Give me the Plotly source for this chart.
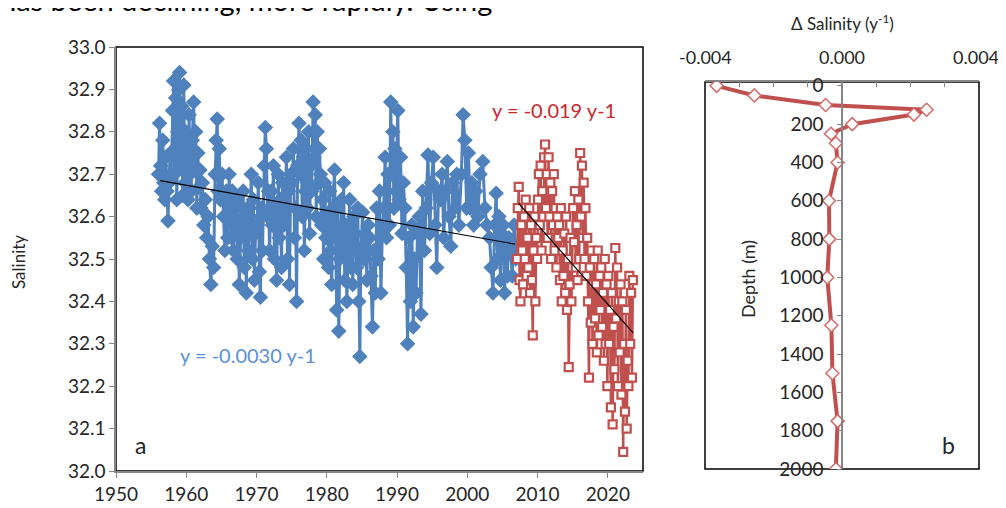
import plotly.graph_objects as go

# ---------------- Panel a: surface salinity time series ----------------
blue_t = [
    1956.05, 1956.2, 1956.35, 1956.5, 1956.65, 1956.8, 1956.95,
    1957.1, 1957.25, 1957.4, 1957.55, 1957.7, 1957.85,
    1958.05, 1958.2, 1958.35, 1958.5, 1958.65, 1958.8, 1958.95,
    1959.05, 1959.2, 1959.35, 1959.5, 1959.65, 1959.8, 1959.95,
    1960.1, 1960.25, 1960.4, 1960.55, 1960.7, 1960.85,
    1961.05, 1961.2, 1961.35, 1961.5, 1961.65, 1961.8, 1961.95,
    1962.1, 1962.3, 1962.5, 1962.7, 1962.9,
    1963.1, 1963.3, 1963.5, 1963.7, 1963.9,
    1964.1, 1964.25, 1964.4, 1964.55, 1964.7, 1964.85,
    1965.1, 1965.3, 1965.5, 1965.7, 1965.9,
    1966.1, 1966.25, 1966.4, 1966.55, 1966.7, 1966.85,
    1967.1, 1967.25, 1967.4, 1967.55, 1967.7, 1967.85,
    1968.1, 1968.25, 1968.4, 1968.55, 1968.7, 1968.85,
    1969.1, 1969.25, 1969.4, 1969.55, 1969.7, 1969.85,
    1970.1, 1970.25, 1970.4, 1970.55, 1970.7, 1970.85,
    1971.1, 1971.25, 1971.4, 1971.55, 1971.7, 1971.85,
    1972.1, 1972.25, 1972.4, 1972.55, 1972.7, 1972.85,
    1973.1, 1973.25, 1973.4, 1973.55, 1973.7, 1973.85,
    1974.1, 1974.25, 1974.4, 1974.55, 1974.7, 1974.85,
    1975.1, 1975.25, 1975.4, 1975.55, 1975.7, 1975.85,
    1976.05, 1976.2, 1976.35, 1976.5, 1976.65, 1976.8, 1976.95,
    1977.1, 1977.25, 1977.4, 1977.55, 1977.7, 1977.85,
    1978.05, 1978.2, 1978.35, 1978.5, 1978.65, 1978.8, 1978.95,
    1979.1, 1979.25, 1979.4, 1979.55, 1979.7, 1979.85,
    1980.1, 1980.25, 1980.4, 1980.55, 1980.7, 1980.85,
    1981.1, 1981.25, 1981.4, 1981.55, 1981.7, 1981.85,
    1982.1, 1982.25, 1982.4, 1982.55, 1982.7, 1982.85,
    1983.1, 1983.25, 1983.4, 1983.55, 1983.7, 1983.85,
    1984.1, 1984.25, 1984.4, 1984.55, 1984.7, 1984.85,
    1985.1, 1985.3, 1985.5, 1985.7, 1985.9,
    1986.1, 1986.3, 1986.5, 1986.7, 1986.9,
    1987.1, 1987.3, 1987.5, 1987.7, 1987.9,
    1988.1, 1988.3, 1988.5, 1988.7, 1988.9,
    1989.1, 1989.25, 1989.4, 1989.55, 1989.7, 1989.85,
    1990.1, 1990.3, 1990.5, 1990.7, 1990.9,
    1991.1, 1991.3, 1991.5, 1991.7, 1991.9,
    1992.1, 1992.3, 1992.5, 1992.7, 1992.9,
    1993.15, 1993.4, 1993.65, 1993.9,
    1994.15, 1994.4, 1994.65, 1994.9,
    1995.15, 1995.4, 1995.65, 1995.9,
    1996.15, 1996.4, 1996.65, 1996.9,
    1997.15, 1997.4, 1997.65, 1997.9,
    1998.2, 1998.5, 1998.8,
    1999.15, 1999.4, 1999.65, 1999.9,
    2000.15, 2000.4, 2000.65, 2000.9,
    2001.2, 2001.5, 2001.8,
    2002.2, 2002.5, 2002.8,
    2003.15, 2003.4, 2003.65, 2003.9,
    2004.1, 2004.3, 2004.5, 2004.7, 2004.9,
    2005.1, 2005.3, 2005.5, 2005.7, 2005.9,
    2006.15, 2006.4, 2006.65, 2006.9,
    2007.0,
]
blue_sal = [
    32.70, 32.82, 32.72, 32.66, 32.78, 32.68, 32.64,
    32.74, 32.66, 32.59, 32.68, 32.75, 32.70,
    32.85, 32.92, 32.70, 32.88, 32.64, 32.80, 32.90,
    32.94, 32.72, 32.86, 32.65, 32.91, 32.68, 32.80,
    32.76, 32.64, 32.84, 32.70, 32.66, 32.78,
    32.87, 32.72, 32.80, 32.62, 32.75, 32.67, 32.71,
    32.62, 32.68, 32.58, 32.64, 32.55,
    32.60, 32.50, 32.44, 32.53, 32.48,
    32.70, 32.78, 32.83, 32.66, 32.76, 32.64,
    32.70, 32.60, 32.52, 32.66, 32.55,
    32.70, 32.62, 32.55, 32.66, 32.52, 32.60,
    32.64, 32.50, 32.58, 32.44, 32.55, 32.62,
    32.66, 32.48, 32.58, 32.42, 32.62, 32.52,
    32.60, 32.70, 32.50, 32.64, 32.45, 32.56,
    32.58, 32.68, 32.47, 32.41, 32.62, 32.52,
    32.72, 32.81, 32.76, 32.60, 32.66, 32.52,
    32.66, 32.58, 32.72, 32.50, 32.62, 32.45,
    32.70, 32.55, 32.64, 32.48, 32.68, 32.58,
    32.62, 32.74, 32.50, 32.66, 32.44, 32.70,
    32.68, 32.76, 32.55, 32.62, 32.40, 32.72,
    32.82, 32.70, 32.78, 32.60, 32.74, 32.52, 32.66,
    32.76, 32.62, 32.80, 32.56, 32.72, 32.66,
    32.87, 32.74, 32.84, 32.60, 32.80, 32.68, 32.76,
    32.70, 32.58, 32.64, 32.50, 32.68, 32.55,
    32.60, 32.48, 32.66, 32.52, 32.44, 32.62,
    32.71, 32.55, 32.38, 32.62, 32.33, 32.50,
    32.64, 32.52, 32.68, 32.45, 32.58, 32.40,
    32.58, 32.64, 32.48, 32.55, 32.44, 32.60,
    32.56, 32.48, 32.62, 32.40, 32.27, 32.52,
    32.61, 32.50, 32.56, 32.45, 32.58,
    32.55, 32.46, 32.34, 32.52, 32.42,
    32.62, 32.50, 32.66, 32.42, 32.56,
    32.62, 32.74, 32.55, 32.70, 32.58,
    32.87, 32.70, 32.80, 32.62, 32.76, 32.66,
    32.85, 32.64, 32.74, 32.56, 32.68,
    32.62, 32.48, 32.30, 32.55, 32.40,
    32.58, 32.34, 32.50, 32.42, 32.56,
    32.60, 32.37, 32.66, 32.52,
    32.62, 32.745, 32.56, 32.68,
    32.74, 32.58, 32.48, 32.66,
    32.64, 32.70, 32.55, 32.66,
    32.73, 32.60, 32.53, 32.68,
    32.62, 32.70, 32.58,
    32.70, 32.84, 32.78, 32.62,
    32.75, 32.62, 32.68, 32.58,
    32.66, 32.60, 32.70,
    32.73, 32.62, 32.58,
    32.55, 32.48, 32.42, 32.58,
    32.655, 32.50, 32.60, 32.45, 32.56,
    32.58, 32.42, 32.52, 32.46, 32.55,
    32.52, 32.46, 32.58, 32.50,
    32.53,
]

red_t = [
    2007.06, 2007.18, 2007.31, 2007.43, 2007.56, 2007.68, 2007.81, 2007.93,
    2008.06, 2008.18, 2008.31, 2008.43, 2008.56, 2008.68, 2008.81, 2008.93,
    2009.06, 2009.18, 2009.31, 2009.43, 2009.56, 2009.68, 2009.81, 2009.93,
    2010.06, 2010.18, 2010.31, 2010.43, 2010.56, 2010.68, 2010.81, 2010.93,
    2011.06, 2011.18, 2011.31, 2011.43, 2011.56, 2011.68, 2011.81, 2011.93,
    2012.06, 2012.18, 2012.31, 2012.43, 2012.56, 2012.68, 2012.81, 2012.93,
    2013.06, 2013.18, 2013.31, 2013.43, 2013.56, 2013.68, 2013.81, 2013.93,
    2014.06, 2014.18, 2014.31, 2014.43, 2014.56, 2014.68, 2014.81, 2014.93,
    2015.06, 2015.18, 2015.31, 2015.43, 2015.56, 2015.68, 2015.81, 2015.93,
    2016.06, 2016.18, 2016.31, 2016.43, 2016.56, 2016.68, 2016.81, 2016.93,
    2017.06, 2017.18, 2017.31, 2017.43, 2017.56, 2017.68, 2017.81, 2017.93,
    2018.06, 2018.18, 2018.31, 2018.43, 2018.56, 2018.68, 2018.81, 2018.93,
    2019.06, 2019.18, 2019.31, 2019.43, 2019.56, 2019.68, 2019.81, 2019.93,
    2020.06, 2020.18, 2020.31, 2020.43, 2020.56, 2020.68, 2020.81, 2020.93,
    2021.06, 2021.18, 2021.31, 2021.43, 2021.56, 2021.68, 2021.81, 2021.93,
    2022.06, 2022.18, 2022.31, 2022.43, 2022.56, 2022.68, 2022.81, 2022.93,
    2023.06, 2023.18, 2023.31, 2023.43, 2023.56,
]
red_sal = [
    32.50, 32.62, 32.67, 32.45, 32.40, 32.58, 32.52, 32.44,
    32.60, 32.50, 32.64, 32.46, 32.55, 32.48, 32.62, 32.42,
    32.58, 32.45, 32.32, 32.52, 32.60, 32.40, 32.55, 32.50,
    32.64, 32.70, 32.58, 32.72, 32.52, 32.66, 32.60, 32.74,
    32.77, 32.62, 32.70, 32.55, 32.74, 32.60, 32.68, 32.50,
    32.66, 32.58, 32.70, 32.52, 32.62, 32.48, 32.60, 32.55,
    32.58, 32.45, 32.62, 32.40, 32.52, 32.46, 32.56, 32.42,
    32.60, 32.38, 32.50, 32.245, 32.44, 32.55, 32.40, 32.48,
    32.62, 32.54, 32.66, 32.48, 32.58, 32.45, 32.64, 32.50,
    32.75, 32.60, 32.72, 32.55, 32.68, 32.50, 32.62, 32.46,
    32.55, 32.40, 32.22, 32.48, 32.35, 32.52, 32.30, 32.44,
    32.50, 32.36, 32.44, 32.28, 32.52, 32.32, 32.46, 32.38,
    32.48, 32.34, 32.42, 32.26, 32.50, 32.30, 32.44, 32.20,
    32.46, 32.30, 32.38, 32.15, 32.42, 32.11, 32.34, 32.24,
    32.526, 32.36, 32.48, 32.20, 32.40, 32.28, 32.44, 32.18,
    32.40, 32.045, 32.30, 32.14, 32.38, 32.10, 32.26, 32.20,
    32.46, 32.30, 32.42, 32.22, 32.45,
]

# Linear trend lines (end points)
blue_trend_t = [1956.3, 2006.8]
blue_trend_sal = [32.685, 32.535]
red_trend_t = [2007.3, 2023.6]
red_trend_sal = [32.631, 32.326]

year_ticks = [1950, 1960, 1970, 1980, 1990, 2000, 2010, 2020]
sal_ticks = [32.0, 32.1, 32.2, 32.3, 32.4, 32.5, 32.6, 32.7, 32.8, 32.9, 33.0]

# ---------------- Panel b: salinity trend profile ----------------
depth_m = [0, 50, 100, 125, 150, 200, 250, 300, 400, 600, 800, 1000, 1250, 1500, 1750, 2000]
dsal = [-0.00366, -0.00256, -0.00048, 0.00247, 0.0021, 0.0003, -0.00032, -0.00018,
        -0.00013, -0.00038, -0.00037, -0.00043, -0.00031, -0.00028, -0.00013, -0.00018]
depth_ticks = [0, 200, 400, 600, 800, 1000, 1200, 1400, 1600, 1800, 2000]
dsal_ticks = [-0.004, -0.003, -0.002, -0.001, 0.0, 0.001, 0.002, 0.003, 0.004]
dsal_label_vals = [-0.004, 0.0, 0.004]
dsal_label_text = ["-0.004", "0.000", "0.004"]

BLUE = "#4F81BD"
RED = "#C0504D"
AXIS = "#868686"
TXT = "#262626"
FONT = "Lato"

OFF = 8  # the page body adds an 8 px margin around the figure
W, H = 1006 - OFF, 508 - OFF
def px(x):
    return (x - OFF) / W
def py(y):
    return 1 - (y - OFF) / H

XB0, XB1 = 705, 979   # panel b plot area, reference pixels
fig = go.Figure()
fig.add_trace(go.Scatter(x=blue_t, y=blue_sal, mode="lines+markers",
                         line=dict(color=BLUE, width=3),
                         marker=dict(symbol="diamond", size=12, color=BLUE),
                         xaxis="x", yaxis="y", showlegend=False))
fig.add_trace(go.Scatter(x=red_t, y=red_sal, mode="lines+markers",
                         line=dict(color=RED, width=2.5),
                         marker=dict(symbol="square", size=8, color="white",
                                     line=dict(color=RED, width=2.2)),
                         xaxis="x", yaxis="y", showlegend=False))
fig.add_trace(go.Scatter(x=blue_trend_t, y=blue_trend_sal, mode="lines",
                         line=dict(color="black", width=1.2),
                         xaxis="x", yaxis="y", showlegend=False))
fig.add_trace(go.Scatter(x=red_trend_t, y=red_trend_sal, mode="lines",
                         line=dict(color="black", width=1.2),
                         xaxis="x", yaxis="y", showlegend=False))
fig.add_trace(go.Scatter(x=dsal, y=depth_m, mode="lines+markers",
                         line=dict(color=RED, width=4),
                         marker=dict(symbol="diamond", size=10, color="white",
                                     line=dict(color="#D46A67", width=1.5)),
                         xaxis="x2", yaxis="y2", showlegend=False))

tickfont = dict(family=FONT, size=19, color=TXT)

fig.update_layout(
    width=W, height=H,
    margin=dict(l=0, r=0, t=0, b=0, autoexpand=False),
    paper_bgcolor="white", plot_bgcolor="white",
    font=dict(family=FONT, color=TXT),
    xaxis=dict(domain=[px(116), px(643)], range=[1950, 2025], anchor="y",
               tickvals=year_ticks, ticks="outside", ticklen=5, tickcolor=AXIS,
               showline=True, linecolor=AXIS, linewidth=1.5, showgrid=False,
               zeroline=False, tickfont=tickfont, automargin=False),
    yaxis=dict(domain=[py(471), py(47)], range=[32.0, 33.0], anchor="x",
               tickvals=sal_ticks, tickformat=".1f", ticks="outside", ticklen=5,
               tickcolor=AXIS, showline=True, linecolor=AXIS, linewidth=1.5,
               showgrid=False, zeroline=False, tickfont=tickfont, automargin=False),
    xaxis2=dict(domain=[px(XB0), px(XB1)], range=[-0.004, 0.004], anchor="y2",
                side="top", tickvals=dsal_ticks, showticklabels=False,
                ticks="inside", ticklen=5, tickcolor=AXIS, showline=True,
                linecolor=AXIS, linewidth=1.5, showgrid=False, zeroline=False,
                automargin=False),
    yaxis2=dict(domain=[py(469), py(82)], range=[2000, -20], anchor="free",
                position=px(842), tickvals=depth_ticks, ticks="outside",
                ticklen=4, tickcolor=AXIS, showline=True, linecolor=AXIS,
                linewidth=1.5, showgrid=False, zeroline=False, tickfont=tickfont,
                ticklabelstandoff=10, automargin=False),
)

# Top-axis labels of panel b placed on the axis scale (kept inside the page)
for v, t in zip(dsal_label_vals, dsal_label_text):
    frac = (v - (-0.004)) / 0.008
    xpix = XB0 + frac * (XB1 - XB0) - (3 if v > 0.003 else 0)
    fig.add_annotation(text=t, x=px(xpix), y=py(57), xref="paper", yref="paper",
                       showarrow=False, xanchor="center", yanchor="middle",
                       font=dict(family=FONT, size=18, color=TXT))

# Frames (black box on the plotting areas)
fig.add_shape(type="rect", xref="x domain", yref="y domain", x0=0, x1=1, y0=0, y1=1,
              line=dict(color="black", width=1.5), layer="below")
fig.add_shape(type="rect", xref="x2 domain", yref="y2 domain", x0=0, x1=1, y0=0, y1=1,
              line=dict(color="black", width=1.5), layer="below")

ann = [
    dict(text="y = -0.019 y-1", x=px(554), y=py(110), color="#C8282E", size=20, angle=0),
    dict(text="y = -0.0030 y-1", x=px(248), y=py(355), color="#5B8FD6", size=20, angle=0),
    dict(text="a", x=px(140), y=py(445), color=TXT, size=23, angle=0),
    dict(text="b", x=px(948), y=py(445), color=TXT, size=23, angle=0),
    dict(text="Salinity", x=px(18), y=py(262), color=TXT, size=17, angle=-90),
    dict(text="Depth (m)", x=px(748), y=py(279), color=TXT, size=18, angle=-90),
    dict(text="Δ Salinity (y<sup>-1</sup>)", x=px(842), y=py(22), color=TXT, size=17, angle=0),
]
for a in ann:
    fig.add_annotation(text=a["text"], x=a["x"], y=a["y"], xref="paper", yref="paper",
                       showarrow=False, textangle=a["angle"],
                       font=dict(family=FONT, size=a["size"], color=a["color"]),
                       xanchor="center", yanchor="middle")

# Cropped line of document text above the figure
fig.add_annotation(text="has been declining, more rapidly. Using", x=px(0), y=py(-0.5),
                   xref="paper", yref="paper", showarrow=False, xanchor="left",
                   yanchor="middle", xshift=-2,
                   font=dict(family=FONT, size=29, color="black"))

fig.write_html("out.html")
